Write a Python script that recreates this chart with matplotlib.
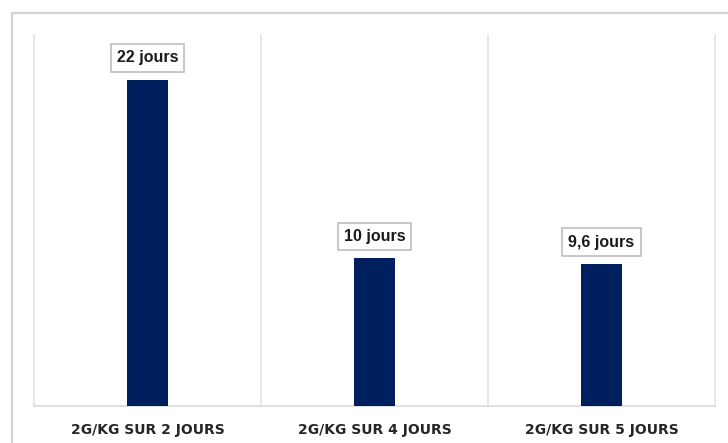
import matplotlib
matplotlib.use('Agg')
import matplotlib.pyplot as plt
from matplotlib.patches import Rectangle

##Data

categories=['2G/KG SUR 2 JOURS','2G/KG SUR 4 JOURS','2G/KG SUR 5 JOURS']
values=[22,10,9.6]
value_labels=['22 jours','10 jours','9,6 jours']

##Figure

fig=plt.figure(figsize=(7.28,4.43),dpi=100)
ax=fig.add_axes([34/728,1-406/443,(715-34)/728,(406-35)/443])

#outer frame of the chart
fig.patches.append(Rectangle((12/728,-0.05),1.0,1-13/443+0.05,transform=fig.transFigure,
                             fill=False,edgecolor='#d4d4d4',linewidth=1.6,zorder=0))

x=list(range(len(categories)))
ax.bar(x,values,width=0.18,color='#001f5f',zorder=3)

#value boxes above the bars
for xi,v,lab in zip(x,values,value_labels):
    ax.annotate(lab,(xi,v),xytext=(0,15.5),textcoords='offset points',ha='center',va='center',
                fontsize=11.5,fontweight='bold',family='Liberation Sans',color='#1a1a1a',
                bbox=dict(boxstyle='square,pad=0.38',facecolor='white',edgecolor='#bfbfbf',linewidth=1.2),
                zorder=4)

ax.set_xlim(-0.5,len(categories)-0.5)
ax.set_ylim(0,25)

#vertical separators between categories
for b in [-0.5,0.5,1.5,2.5]:
    ax.axvline(b,color='#e3e3e3',linewidth=1.2,zorder=1,clip_on=False)

ax.set_xticks(x)
ax.set_xticklabels(categories,fontsize=10,fontweight='bold',color='#262626')
ax.tick_params(axis='x',length=0,pad=12)
ax.set_yticks([])
for s in ['top','left','right']:
    ax.spines[s].set_visible(False)
ax.spines['bottom'].set_color('#d9d9d9')
ax.spines['bottom'].set_linewidth(1.2)

fig.savefig('out.png',dpi=100)
